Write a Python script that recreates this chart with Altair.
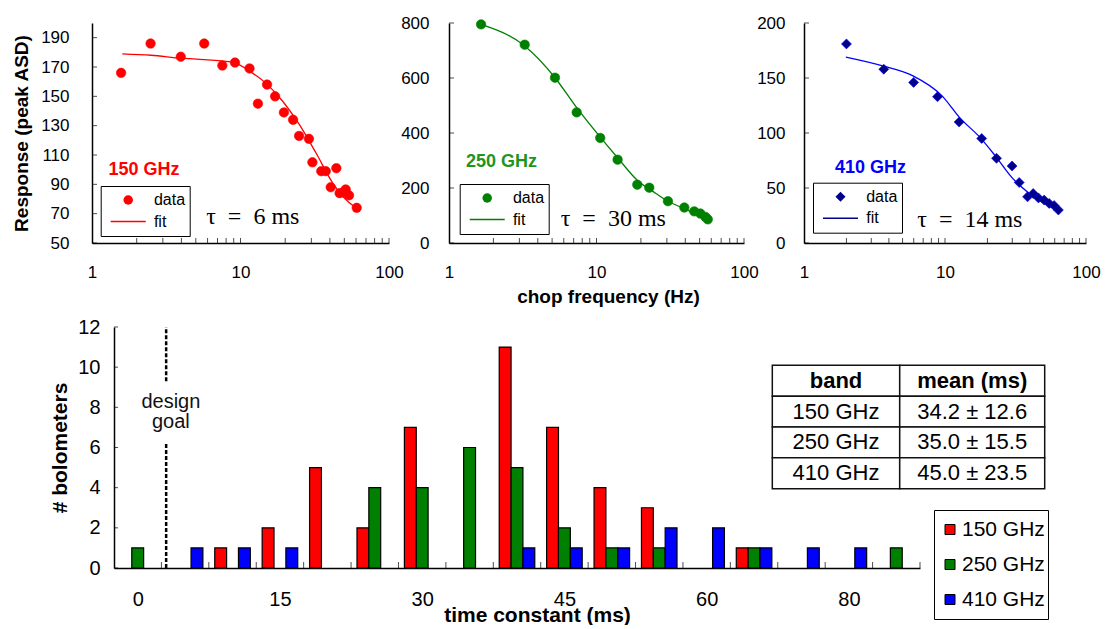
import json
import altair as alt
import pandas as pd

FONT = "Liberation Sans"

# ---------------- data ----------------
bands = ["150 GHz", "250 GHz", "410 GHz"]
taus = ["τ\u2002=\u20026 ms", "τ\u2002=\u200230 ms", "τ\u2002=\u200214 ms"]

# 150 GHz response vs chop frequency
f150 = [1.57, 2.48, 3.96, 5.7, 7.55, 9.18, 11.5, 13.1, 15.1, 17.1, 19.6, 22.6,
        24.8, 28.9, 30.5, 35.0, 37.5, 40.5, 44.2, 46.5, 49.0, 51.1, 53.8, 60.6]
r150 = [166, 186, 177, 186, 171, 173, 169, 145, 158, 150, 139, 134,
        123, 121, 105, 99, 99, 88, 101, 84, 84.5, 86.5, 82.5, 74]
fit150_f = [1.6, 2.5, 4.0, 5.7, 8.8, 12.0, 14.8, 19.1, 24.8, 32.2, 41.5, 53.8, 60.6]
fit150_r = [179, 178, 176, 175, 173.3, 166, 159, 147, 131, 111.5, 91.4, 77.6, 73.8]

# 250 GHz
f250 = [1.65, 3.26, 5.23, 7.34, 10.6, 13.9, 18.9, 22.8, 30.5, 39.4, 46.0, 50.6, 54.7, 56.8]
r250 = [795, 721, 601, 475, 382, 303, 212, 201, 152, 129, 115, 107, 95, 86]
fit250_f = [1.65, 3.26, 5.23, 7.34, 10.6, 13.9, 18.9, 25.3, 30.5, 39.4, 56.8]
fit250_r = [795, 716, 601, 492, 385, 310, 228, 180, 152, 125, 86]

# 410 GHz
f410 = [2.0, 3.68, 5.99, 8.85, 12.6, 18.2, 23.2, 29.9, 33.6, 38.5, 42.2, 46.0,
        50.5, 54.8, 59.4, 63.7]
r410 = [181, 158, 146, 133, 110, 95, 77, 70, 55, 42, 45, 41, 39, 36, 34, 30]
fit410_f = [1.98, 3.62, 5.93, 9.5, 12.7, 17.7, 22.8, 30.1, 39.6, 64.4]
fit410_r = [169, 161, 152, 134, 114, 96, 79, 59, 45, 29]

log_ticks = [2, 3, 4, 5, 6, 7, 8, 9, 10, 20, 30, 40, 50, 60, 70, 80, 90, 100]
y150_ticks = [50, 70, 90, 110, 130, 150, 170, 190]
y250_ticks = [0, 200, 400, 600, 800]
y410_ticks = [0, 50, 100, 150, 200]

# histogram of time constants (counts per category, 17 categories)
hist_150 = [0, 0, 1, 2, 5, 2, 7, 0, 11, 7, 4, 3, 0, 1, 0, 0, 0]
hist_250 = [1, 0, 0, 0, 0, 4, 4, 6, 5, 2, 1, 1, 0, 1, 0, 0, 1]
hist_410 = [0, 1, 1, 1, 0, 0, 0, 0, 1, 1, 1, 2, 2, 1, 1, 1, 0]
hist_tick_labels = ["0", "15", "30", "45", "60", "80"]
hist_tick_cats = [0, 3, 6, 9, 12, 15]
hist_y_ticks = [0, 2, 4, 6, 8, 10, 12]
design_goal_cat = 1.1

table_header = ["band", "mean (ms)"]
table_means = ["34.2 ± 12.6", "35.0 ± 15.5", "45.0 ± 23.5"]

# ---------------- styling ----------------
RED = "#FF0000"
GREEN = "#008000"
GREEN_LBL = "#1E961E"
NAVY = "#00008B"
BLUE = "#0000FF"


def panel(f, r, ff, fr, band, tau, ydom, yticks, pcolor, lcolor, lblcolor, shape, psize,
          fitpath, lblpos, taupos, width, legxy, xtitle, ytitle, ylabpad):
    kind_dom = ["data", "fit"]
    xsc = alt.Scale(type="log", domain=[1, 100], nice=False)
    ysc = alt.Scale(domain=ydom, nice=False, zero=False)
    pts_df = pd.DataFrame({"f": f, "r": r, "kind": "data"})
    fit_df = pd.DataFrame({"f": ff, "r": fr, "kind": "fit"})

    leg = alt.Legend(
        title=None, orient="none", legendX=legxy[0], legendY=legxy[1],
        direction="vertical", strokeColor="black", fillColor="white",
        padding=4, symbolSize=psize, symbolFillColor=pcolor, symbolStrokeColor=lcolor,
        symbolStrokeWidth=1.0, symbolOffset=15.5, labelOffset=17.7,
        labelFont=FONT, labelFontSize=16, labelColor="black",
        clipHeight=20, rowPadding=1.5,
    )
    xaxis = alt.Axis(values=[1, 10, 100], format="d", ticks=False, grid=False,
                     labelFontSize=17, labelPadding=21, labelFont=FONT, labelFlush=False,
                     domainColor="black", domainWidth=1.5, labelColor="black",
                     title=xtitle if xtitle else None, titleFontSize=19,
                     titleFontWeight="bold", titleFont=FONT, titleX=159, titleY=53,
                     titleBaseline="middle", titleAlign="center", titleColor="black")
    yaxis = alt.Axis(values=yticks, ticks=False, grid=False, labelFontSize=17,
                     labelPadding=ylabpad, labelFont=FONT, labelFlush=False,
                     domainColor="black", domainWidth=1.5, labelColor="black",
                     title=ytitle if ytitle else None, titleFontSize=19,
                     titleFontWeight="bold", titleFont=FONT, titleX=-71, titleY=110,
                     titleBaseline="middle", titleAlign="center", titleColor="black")

    xt = alt.Chart(pd.DataFrame({"f": log_ticks, "r": ydom[0]})).mark_tick(
        orient="vertical", size=5, thickness=1, color="black", yOffset=-2.5)
    yt = alt.Chart(pd.DataFrame({"f": 1.0, "r": yticks})).mark_tick(
        orient="horizontal", size=5, thickness=1, color="black", xOffset=2.5)
    line = alt.Chart(fit_df).mark_line(strokeWidth=1.3, interpolate="monotone", color=lcolor)
    pts = alt.Chart(pts_df).mark_point(
        filled=True, opacity=1, size=psize, fill=pcolor, stroke=lcolor, strokeWidth=0.6
    ).encode(
        shape=alt.Shape("kind:N", scale=alt.Scale(domain=kind_dom, range=[shape, fitpath]), legend=leg),
    )
    lbl = alt.Chart(pd.DataFrame({"f": [lblpos[0]], "r": [lblpos[1]], "t": [band]})).mark_text(
        font=FONT, fontSize=18, fontWeight="bold", color=lblcolor, align="center", baseline="middle"
    ).encode(text="t:N")
    tt = alt.Chart(pd.DataFrame({"f": [taupos[0]], "r": [taupos[1]], "t": [tau]})).mark_text(
        font="Liberation Serif", fontSize=24, color="black", align="center", baseline="middle"
    ).encode(text="t:N")

    return alt.layer(xt, yt, line, pts, lbl, tt).encode(
        x=alt.X("f:Q", scale=xsc, axis=xaxis),
        y=alt.Y("r:Q", scale=ysc, axis=yaxis),
    ).properties(width=width, height=220)


# legend "fit" samples: thin filled bars, ~35 px wide (one distinct path per panel)
FIT_PATH_1 = "M-3.7,-0.15H3.7V0.15H-3.7Z"
FIT_PATH_2 = "M-3.69,-0.151H3.69V0.151H-3.69Z"
FIT_PATH_3 = "M-3.5,-0.14H3.5V0.14H-3.5Z"

p1 = panel(f150, r150, fit150_f, fit150_r, bands[0], taus[0], [50, 200], y150_ticks,
           RED, RED, RED, "circle", 90, FIT_PATH_1, (2.24, 100), (12.1, 68),
           297, (8.7, 163), None, "Response (peak ASD)", 23)
p2 = panel(f250, r250, fit250_f, fit250_r, bands[1], taus[1], [0, 800], y250_ticks,
           GREEN, GREEN, GREEN_LBL, "circle", 90, FIT_PATH_2, (2.27, 294), (13.0, 87),
           295, (10.7, 161), "chop frequency (Hz)", None, 20)
p3 = panel(f410, r410, fit410_f, fit410_r, bands[2], taus[2], [0, 200], y410_ticks,
           NAVY, BLUE, BLUE, "diamond", 100, FIT_PATH_3, (2.96, 68), (15.0, 21),
           282, (9, 159.7), None, None, 19)

top = alt.hconcat(p1, p2, p3, spacing=60, bounds="flush").resolve_scale(
    shape="independent", color="independent").resolve_legend(
    shape="independent", color="independent")

# ---------------- histogram ----------------
rows = []
for s, (band, counts) in enumerate(zip(bands, [hist_150, hist_250, hist_410])):
    for c, n in enumerate(counts):
        if n > 0:
            rows.append({"cat": c, "s": s, "band": band, "n": n})
bars_df = pd.DataFrame(rows)
ncat = len(hist_150)

hx = alt.Scale(domain=[0, ncat], nice=False, zero=False)
hy = alt.Scale(domain=[0, 12], nice=False)

label_js = json.dumps(hist_tick_labels)
hxaxis = alt.Axis(values=[c + 0.5 for c in hist_tick_cats],
                  labelExpr=f"{label_js}[round((datum.value-0.5)/3)]",
                  ticks=False, grid=False, labelFontSize=20, labelPadding=21, labelFont=FONT,
                  labelColor="black", domainColor="black", domainWidth=1.5, labelFlush=False,
                  title="time constant (ms)", titleFont=FONT, titleFontSize=21,
                  titleFontWeight="bold", titleX=423, titleY=47, titleBaseline="middle",
                  titleAlign="center", titleColor="black")
hyaxis = alt.Axis(values=hist_y_ticks, ticks=False, grid=False, labelFontSize=20,
                  labelPadding=14, labelFont=FONT, labelColor="black", domainColor="black",
                  domainWidth=1.5, labelFlush=False, title="# bolometers", titleFont=FONT,
                  titleFontSize=21, titleFontWeight="bold", titleX=-53.5, titleY=120.5,
                  titleBaseline="middle", titleAlign="center", titleColor="black")

hleg = alt.Legend(title=None, orient="none", legendX=842, legendY=183, direction="vertical",
                  strokeColor="black", fillColor="white", padding=3, symbolType="square",
                  symbolSize=100, symbolStrokeColor="black", symbolStrokeWidth=1,
                  symbolOffset=2.5, labelOffset=1.5, labelFont=FONT, labelFontSize=21,
                  labelColor="black", clipHeight=33, rowPadding=2)

bars = alt.Chart(bars_df).transform_calculate(
    x="datum.cat + 0.125 + 0.25 * datum.s",
    x2="datum.cat + 0.375 + 0.25 * datum.s",
    y="datum.n",
    y2="0",
).mark_bar(stroke="black", strokeWidth=1.2).encode(
    x2="x2:Q",
    y2="y2:Q",
    color=alt.Color("band:N", scale=alt.Scale(domain=bands, range=[RED, GREEN, BLUE]), legend=hleg),
)

bt = alt.Chart(pd.DataFrame({"x": list(range(1, ncat + 1)), "y": 0})).mark_tick(
    orient="vertical", size=6, thickness=1, color="black", yOffset=-3)
ht = alt.Chart(pd.DataFrame({"x": 0.0, "y": hist_y_ticks})).mark_tick(
    orient="horizontal", size=4, thickness=1, color="black", xOffset=2)

goal_df = pd.DataFrame({"x": design_goal_cat, "y": [9.3, 0.0], "y2": [12.0, 6.2]})
goal = alt.Chart(goal_df).mark_rule(color="black", strokeWidth=2.5, strokeDash=[4, 2]).encode(
    y2="y2:Q")
goal_txt = alt.Chart(pd.DataFrame({"x": [design_goal_cat + 0.1], "y": [8.27], "t": ["design\ngoal"]})).mark_text(
    font=FONT, fontSize=20, lineBreak="\n", lineHeight=20, color="#111", align="center", baseline="middle"
).encode(text="t:N")

# table of means, drawn in the histogram's data space (upper right)
col_edges = [13.885, 16.572, 19.63]
tab_top = 10.09
row_h = 1.535
tab_rows = [table_header] + [[b, m] for b, m in zip(bands, table_means)]
rects, texts = [], []
for ri, row in enumerate(tab_rows):
    for ci, txt in enumerate(row):
        rects.append({"x": col_edges[ci], "x2": col_edges[ci + 1],
                      "y": tab_top - (ri + 1) * row_h, "y2": tab_top - ri * row_h})
        texts.append({"x": (col_edges[ci] + col_edges[ci + 1]) / 2,
                      "y": tab_top - (ri + 0.5) * row_h, "t": txt, "head": ri == 0})
rect_df = pd.DataFrame(rects)
text_df = pd.DataFrame(texts)
tab_rect = alt.Chart(rect_df).mark_rect(fill="white", stroke="#111", strokeWidth=1.5).encode(
    x2="x2:Q", y2="y2:Q")
tab_head = alt.Chart(text_df).transform_filter("datum.head").mark_text(
    font=FONT, fontSize=22, fontWeight="bold", color="black", baseline="middle"
).encode(text="t:N")
tab_body = alt.Chart(text_df).transform_filter("!datum.head").mark_text(
    font=FONT, fontSize=22, color="black", baseline="middle"
).encode(text="t:N")

hist = alt.layer(bt, ht, bars, goal, goal_txt, tab_rect, tab_head, tab_body).encode(
    x=alt.X("x:Q", scale=hx, axis=hxaxis),
    y=alt.Y("y:Q", scale=hy, axis=hyaxis),
).properties(width=806, height=241)

spacer = alt.Chart(pd.DataFrame({"v": [0]})).mark_point(opacity=0).encode(
    x=alt.X("v:Q", axis=None), y=alt.Y("v:Q", axis=None)).properties(width=2, height=241)

bottom = alt.hconcat(spacer, hist, spacing=20, bounds="flush")

chart = alt.vconcat(top, bottom, spacing=11).resolve_scale(
    shape="independent", color="independent").resolve_legend(
    shape="independent", color="independent"
).properties(
    padding={"left": 3, "top": 6, "right": 0, "bottom": 0}
).configure(background="white", font=FONT).configure_view(stroke=None)

chart.save("out.html", embed_options={"renderer": "svg", "actions": False})
